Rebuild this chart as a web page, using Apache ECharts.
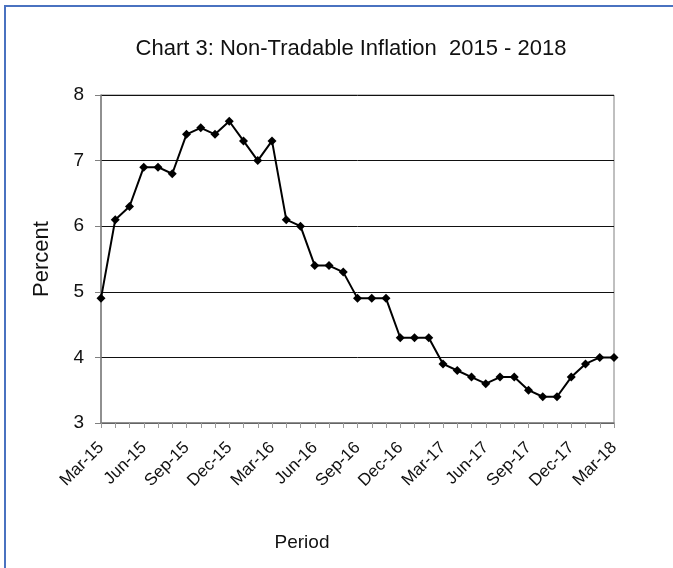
<!DOCTYPE html>
<html>
<head>
<meta charset="utf-8">
<script src="https://cdn.jsdelivr.net/npm/echarts@6/dist/echarts.min.js"></script>
<style>
  html, body { margin: 0; padding: 0; background: #fff; }
  #chart { width: 673px; height: 568px; }
</style>
</head>
<body>
<div id="chart"></div>
<script>
var months = [
	'Mar-15', 'Apr-15', 'May-15', 'Jun-15', 'Jul-15', 'Aug-15', 'Sep-15', 'Oct-15', 'Nov-15', 'Dec-15',
	'Jan-16', 'Feb-16', 'Mar-16', 'Apr-16', 'May-16', 'Jun-16', 'Jul-16', 'Aug-16', 'Sep-16', 'Oct-16', 'Nov-16', 'Dec-16',
	'Jan-17', 'Feb-17', 'Mar-17', 'Apr-17', 'May-17', 'Jun-17', 'Jul-17', 'Aug-17', 'Sep-17', 'Oct-17', 'Nov-17', 'Dec-17',
	'Jan-18', 'Feb-18', 'Mar-18'
];
var inflation = [
	4.9, 6.1, 6.3, 6.9, 6.9, 6.8, 7.4, 7.5, 7.4, 7.6,
	7.3, 7.0, 7.3, 6.1, 6.0, 5.4, 5.4, 5.3, 4.9, 4.9, 4.9, 4.3,
	4.3, 4.3, 3.9, 3.8, 3.7, 3.6, 3.7, 3.7, 3.5, 3.4, 3.4, 3.7,
	3.9, 4.0, 4.0
];

var chart = echarts.init(document.getElementById('chart'), null, { renderer: 'canvas' });

chart.setOption({
	animation: false,
	backgroundColor: '#fff',
	title: [
		{
			text: 'Chart 3: Non-Tradable Inflation  2015 - 2018',
			left: 346, top: 33, textAlign: 'center',
			textStyle: { fontFamily: 'Liberation Sans', fontSize: 22, fontWeight: 'normal', color: '#111' }
		},
		{
			text: 'Period',
			left: 297, top: 528, textAlign: 'center',
			textStyle: { fontFamily: 'Liberation Sans', fontSize: 19, fontWeight: 'normal', color: '#111' }
		}
	],
	graphic: [
		{ type: 'line', shape: { x1: 4, y1: 6, x2: 673, y2: 6 }, style: { stroke: '#4a72c0', lineWidth: 2 } },
		{ type: 'line', shape: { x1: 5, y1: 6, x2: 5, y2: 568 }, style: { stroke: '#4a72c0', lineWidth: 2 } }
	],
	grid: {
		left: 101, right: 59, top: 95, bottom: 145,
		show: true, borderColor: '#808080', borderWidth: 1
	},
	xAxis: {
		type: 'category',
		data: months,
		boundaryGap: false,
		axisLine: { lineStyle: { color: '#808080', width: 1.5 } },
		axisTick: { interval: 0, length: 5, lineStyle: { color: '#999' } },
		axisLabel: {
			interval: 2, rotate: 45, margin: 22,
			fontFamily: 'Liberation Sans', fontSize: 17, color: '#111'
		},
		splitLine: { show: false }
	},
	yAxis: {
		type: 'value',
		min: 3, max: 8, interval: 1,
		name: 'Percent',
		nameLocation: 'middle',
		nameGap: 48,
		nameTextStyle: { fontFamily: 'Liberation Sans', fontSize: 22, color: '#111' },
		axisLine: { show: true, lineStyle: { color: '#808080', width: 1.5 } },
		axisTick: { show: true, length: 6, lineStyle: { color: '#808080' } },
		axisLabel: { margin: 17, fontFamily: 'Liberation Sans', fontSize: 19, color: '#111' },
		splitLine: { lineStyle: { color: '#111', width: 1 } }
	},
	series: [{
		type: 'line',
		data: inflation,
		symbol: 'diamond',
		symbolSize: 9,
		lineStyle: { color: '#000', width: 2 },
		itemStyle: { color: '#000' }
	}]
});
</script>
</body>
</html>
